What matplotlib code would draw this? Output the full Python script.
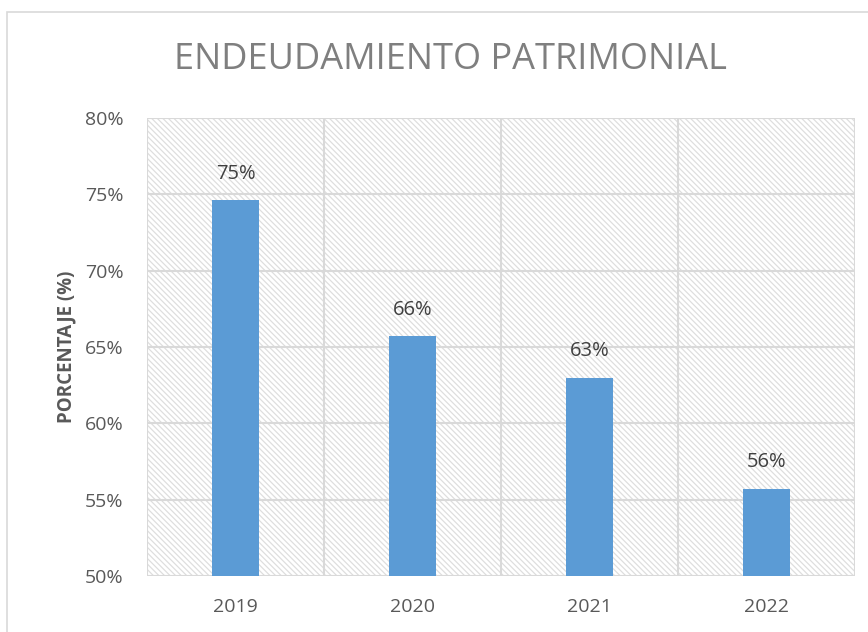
import matplotlib.pyplot as plt
from matplotlib.patches import Rectangle

# datos
years = ["2019", "2020", "2021", "2022"]
valores = [74.6, 65.7, 63.0, 55.7]
etiquetas = ["75%", "66%", "63%", "56%"]
yticks = [50, 55, 60, 65, 70, 75, 80]

plt.rcParams['font.family'] = ['Open Sans', 'DejaVu Sans']
plt.rcParams['hatch.color'] = '#dedede'
plt.rcParams['hatch.linewidth'] = 0.9

fig = plt.figure(figsize=(8.68, 6.32), dpi=100)
ax = fig.add_axes([147 / 868, 1 - 576 / 632, 708 / 868, 458 / 632])

# borde exterior del grafico
fig.patches.append(Rectangle((7 / 868, -0.1), 1.2, (632 - 12) / 632 + 0.1,
                             transform=fig.transFigure, fill=False,
                             edgecolor='#d9d9d9', linewidth=1.2))

# fondo rayado
ax.add_patch(Rectangle((0, 0), 1, 1, transform=ax.transAxes, facecolor='white',
                       edgecolor='#dedede', hatch='\\\\\\\\\\\\', linewidth=0, zorder=0))

x = list(range(len(years)))
ax.bar(x, valores, width=0.27, color='#5b9bd5', zorder=3)
for xi, v, lab in zip(x, valores, etiquetas):
    ax.text(xi, v + 1.1, lab, ha='center', va='bottom', fontsize=14.5, color='#404040', zorder=4)

ax.set_xlim(-0.5, len(years) - 0.5)
ax.set_ylim(50, 80)
ax.set_yticks(yticks)
ax.set_yticklabels([f"{t}%" for t in yticks], fontsize=14, color='#595959')
ax.set_xticks(x)
ax.set_xticklabels(years, fontsize=14, color='#595959')
ax.tick_params(length=0)
ax.tick_params(axis='y', pad=17)
ax.tick_params(axis='x', pad=16)

# rejilla
for t in yticks:
    ax.axhline(t, color='#d9d9d9', linewidth=1.5, zorder=1)
for b in [-0.5, 0.5, 1.5, 2.5, 3.5]:
    ax.axvline(b, color='#d9d9d9', linewidth=1.5, zorder=1)
for s in ax.spines.values():
    s.set_visible(False)

ax.set_ylabel("PORCENTAJE (%)", fontsize=13.5, fontweight='bold', color='#595959', labelpad=6)
fig.text(450 / 868, 1 - 60 / 632, "ENDEUDAMIENTO PATRIMONIAL", ha='center', va='center',
         fontsize=26, color='#7f7f7f')

fig.savefig("out.png", dpi=100)
